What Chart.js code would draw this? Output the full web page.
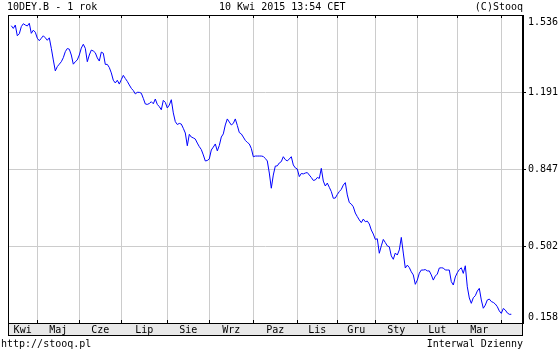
<!DOCTYPE html>
<html>
<head>
<meta charset="utf-8">
<script src="https://cdn.jsdelivr.net/npm/chart.js@4"></script>
<style>
  html, body { margin: 0; padding: 0; background: #fff; }
  canvas { display: block; }
</style>
</head>
<body>
<canvas id="chart" width="560" height="350"></canvas>
<script>
// daily close, 10DEY.B, trading days from 10 Apr 2014
const closes = [
  1.488, 1.476, 1.491, 1.443, 1.452, 1.484, 1.497, 1.491, 1.487, 1.499,
  1.454, 1.468, 1.459, 1.432, 1.421, 1.432, 1.443, 1.434, 1.423, 1.434,
  1.387, 1.335, 1.286, 1.305, 1.316, 1.327, 1.345, 1.372, 1.386, 1.383,
  1.357, 1.316, 1.327, 1.335, 1.357, 1.388, 1.405, 1.387, 1.327, 1.357,
  1.379, 1.375, 1.367, 1.344, 1.330, 1.370, 1.365, 1.315, 1.315, 1.301,
  1.277, 1.244, 1.232, 1.244, 1.227, 1.247, 1.266, 1.252, 1.239, 1.223,
  1.208, 1.198, 1.183, 1.190, 1.190, 1.186, 1.163, 1.138, 1.136, 1.140,
  1.148, 1.139, 1.160, 1.136, 1.126, 1.112, 1.154, 1.145, 1.120, 1.133,
  1.157, 1.098, 1.059, 1.046, 1.051, 1.048, 1.029, 1.008, 0.951, 1.002,
  0.990, 0.986, 0.981, 0.963, 0.947, 0.934, 0.910, 0.883, 0.885, 0.892,
  0.932, 0.945, 0.959, 0.928, 0.952, 0.990, 1.004, 1.044, 1.071, 1.057,
  1.044, 1.051, 1.071, 1.042, 1.010, 1.004, 0.990, 0.975, 0.966, 0.959,
  0.939, 0.902, 0.905, 0.905, 0.905, 0.905, 0.903, 0.894, 0.883, 0.829,
  0.761, 0.820, 0.860, 0.861, 0.874, 0.880, 0.902, 0.889, 0.883, 0.892,
  0.902, 0.865, 0.852, 0.847, 0.813, 0.827, 0.825, 0.829, 0.831, 0.820,
  0.809, 0.796, 0.798, 0.809, 0.805, 0.850, 0.793, 0.771, 0.784, 0.765,
  0.746, 0.716, 0.717, 0.733, 0.746, 0.756, 0.775, 0.786, 0.731, 0.697,
  0.690, 0.678, 0.650, 0.634, 0.619, 0.607, 0.623, 0.611, 0.614, 0.601,
  0.574, 0.556, 0.532, 0.535, 0.470, 0.503, 0.532, 0.518, 0.503, 0.499,
  0.458, 0.443, 0.471, 0.462, 0.485, 0.541, 0.471, 0.404, 0.417, 0.406,
  0.387, 0.373, 0.331, 0.350, 0.381, 0.395, 0.395, 0.397, 0.391, 0.391,
  0.373, 0.350, 0.368, 0.377, 0.404, 0.405, 0.404, 0.395, 0.395, 0.395,
  0.343, 0.328, 0.364, 0.383, 0.397, 0.405, 0.380, 0.414, 0.320, 0.270,
  0.246, 0.271, 0.280, 0.301, 0.313, 0.261, 0.224, 0.238, 0.261, 0.265,
  0.254, 0.250, 0.243, 0.231, 0.212, 0.201, 0.223, 0.216, 0.203, 0.197,
  0.197
];

// months (label sits between two month starts)
const monthNames = ["Kwi", "Maj", "Cze", "Lip", "Sie", "Wrz", "Paz", "Lis", "Gru", "Sty", "Lut", "Mar"];
// trading-day index where each next month begins (May ... Apr)
const monthStarts = [13, 34, 55, 78, 99, 121, 143, 163, 182, 203, 223, 245];

const yTicks = [0.158, 0.502, 0.847, 1.191, 1.536];
const yMin = 0.158, yMax = 1.536;
const xMin = -1.65, xMax = 255.85;

const FONT = "DejaVu Sans Mono";
const GRID = "#cccccc";

const monthMids = monthNames.map((m, i) => ((i === 0 ? xMin : monthStarts[i - 1]) + monthStarts[i]) / 2);

const points = closes.map((v, i) => ({ x: i, y: v }));

const stooqDecor = {
  id: "stooqDecor",
  beforeDraw(chart) {
    const { ctx, chartArea: a } = chart;
    ctx.save();
    ctx.fillStyle = "#e8e8e8";
    ctx.fillRect(a.left, a.bottom, a.right - a.left, 12);
    ctx.restore();
  },
  afterDraw(chart) {
    const { ctx, chartArea: a } = chart;
    const xs = chart.scales.x, ys = chart.scales.y;
    ctx.save();
    ctx.strokeStyle = "#000";
    ctx.lineWidth = 1;
    // frame of plot and label band
    ctx.strokeRect(a.left + 0.5, a.top + 0.5, a.right - a.left - 1, a.bottom - a.top);
    ctx.strokeRect(a.left + 0.5, a.bottom + 0.5, a.right - a.left - 1, 12);
    // short dark month marks at top and bottom
    ctx.beginPath();
    monthStarts.forEach(d => {
      const px = Math.round(xs.getPixelForValue(d)) + 0.5;
      ctx.moveTo(px, a.top); ctx.lineTo(px, a.top + 3);
      ctx.moveTo(px, a.bottom - 3); ctx.lineTo(px, a.bottom);
    });
    ctx.stroke();
    // end labels of y axis
    ctx.fillStyle = "#000";
    ctx.font = "10px '" + FONT + "'";
    ctx.textAlign = "left";
    ctx.textBaseline = "top";
    ctx.fillText(yMax.toFixed(3), a.right + 5, ys.getPixelForValue(yMax) + 2);
    ctx.textBaseline = "bottom";
    ctx.fillText(yMin.toFixed(3), a.right + 5, ys.getPixelForValue(yMin) - 1);
    // header / footer
    ctx.textBaseline = "middle";
    ctx.fillText("10DEY.B - 1 rok", 7, 7);
    ctx.fillText("10 Kwi 2015 13:54 CET", 219, 7);
    ctx.fillText("http://stooq.pl", 1, 344);
    ctx.textAlign = "right";
    ctx.fillText("(C)Stooq", a.right, 7);
    ctx.fillText("Interwal Dzienny", a.right, 344);
    ctx.restore();
  }
};

new Chart(document.getElementById("chart").getContext("2d"), {
  type: "line",
  data: {
    datasets: [{
      data: points,
      borderColor: "#0000ff",
      borderWidth: 1,
      pointRadius: 0,
      fill: false,
      tension: 0
    }]
  },
  options: {
    responsive: false,
    animation: false,
    devicePixelRatio: 1,
    layout: { padding: { left: 8, top: 15, right: 0, bottom: 0 } },
    plugins: { legend: { display: false }, tooltip: { enabled: false } },
    scales: {
      x: {
        type: "linear",
        min: xMin,
        max: xMax,
        afterBuildTicks: s => {
          s.ticks = monthStarts.concat(monthMids).sort((a, b) => a - b).map(v => ({ value: v }));
        },
        afterFit: s => { s.height = 27; },
        grid: {
          color: c => (c.tick && monthStarts.includes(c.tick.value)) ? GRID : "rgba(0,0,0,0)",
          drawTicks: false
        },
        border: { display: true, color: "#000" },
        ticks: {
          autoSkip: false,
          maxRotation: 0,
          padding: 1,
          color: "#000",
          font: { family: FONT, size: 10 },
          callback: v => {
            const i = monthMids.indexOf(v);
            return i >= 0 ? monthNames[i] : "";
          }
        }
      },
      y: {
        type: "linear",
        position: "right",
        min: yMin,
        max: yMax,
        afterBuildTicks: s => { s.ticks = yTicks.map(v => ({ value: v })); },
        afterFit: s => { s.width = 37; },
        grid: {
          color: c => (c.tick && (c.tick.value === yMin || c.tick.value === yMax)) ? "rgba(0,0,0,0)" : GRID,
          tickColor: c => (c.tick && (c.tick.value === yMin || c.tick.value === yMax)) ? "rgba(0,0,0,0)" : "#000",
          tickLength: 3
        },
        border: { display: true, color: "#000" },
        ticks: {
          padding: 2,
          color: "#000",
          font: { family: FONT, size: 10 },
          callback: v => (v === yMin || v === yMax) ? "" : v.toFixed(3)
        }
      }
    }
  },
  plugins: [stooqDecor]
});
</script>
</body>
</html>
